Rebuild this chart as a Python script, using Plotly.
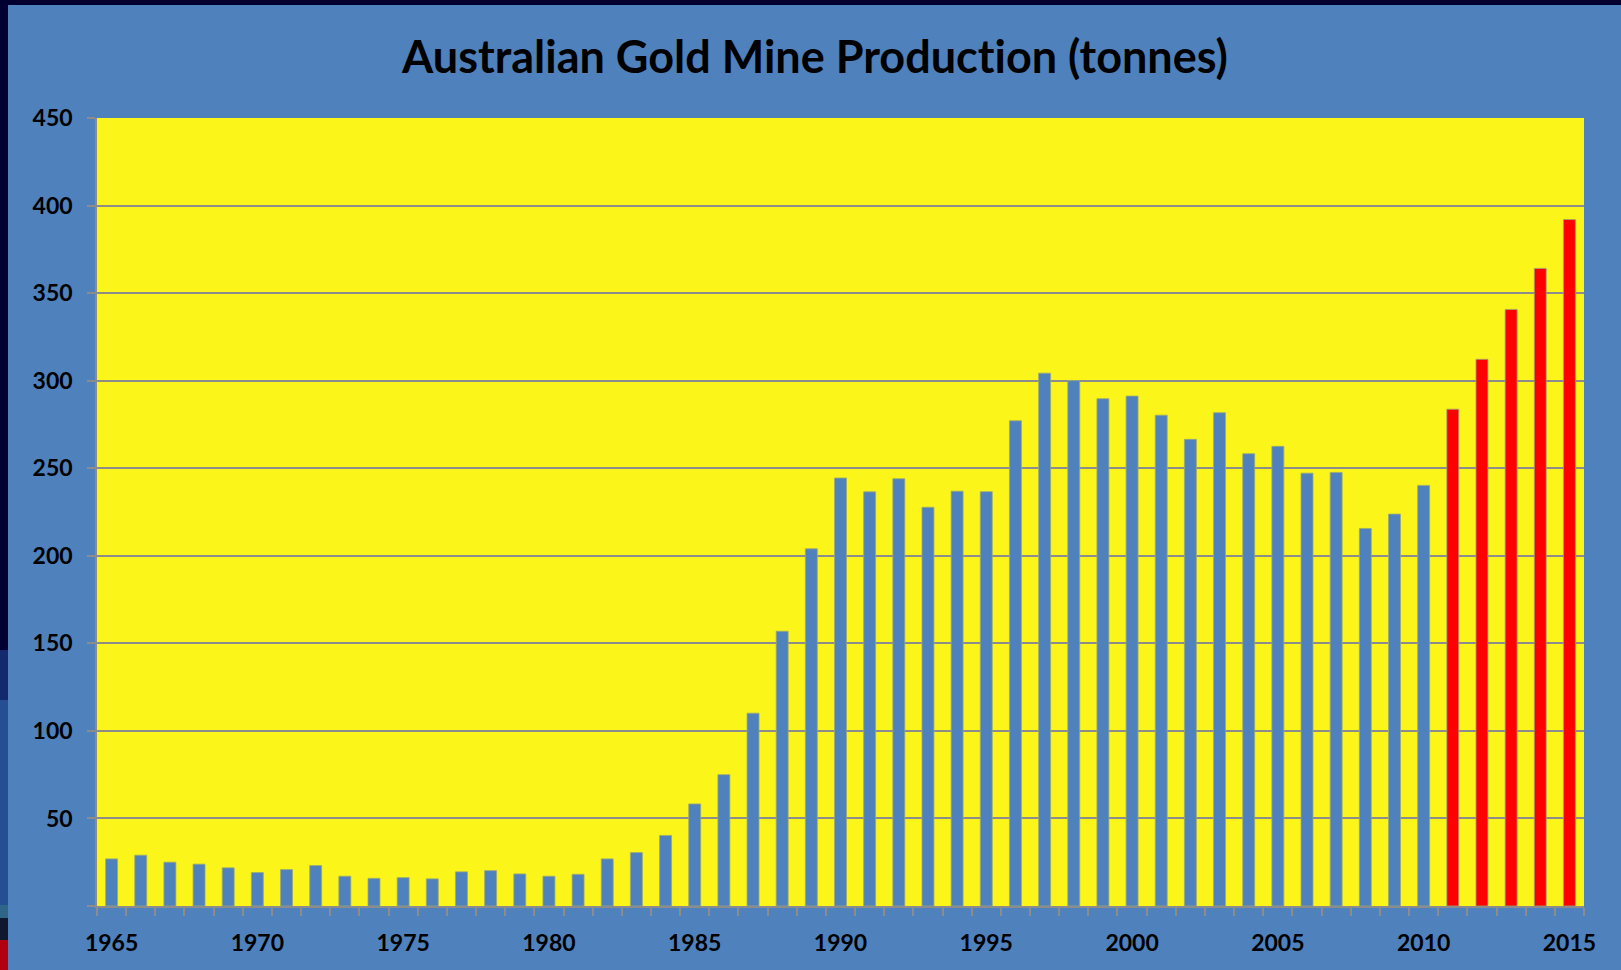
import plotly.graph_objects as go

# ---- data ----
years = list(range(1965, 2016))
production = [
    26.9, 29.0, 25.0, 23.9, 21.8, 19.1, 20.8, 23.1, 17.0, 15.8,   # 1965-1974
    16.2, 15.5, 19.5, 20.2, 18.3, 17.0, 18.1, 26.9, 30.5, 40.3,   # 1975-1984
    58.3, 75.0, 110.1, 156.9, 204.0, 244.4, 236.5, 244.0, 227.7, 236.9,  # 1985-1994
    236.6, 277.1, 304.3, 300.0, 289.7, 291.2, 280.3, 266.5, 281.7, 258.3,  # 1995-2004
    262.5, 247.2, 247.6, 215.6, 223.8, 240.2, 283.7, 312.2, 340.7, 364.1,  # 2005-2014
    392.0,                                                         # 2015
]
highlight_from = 2011
x_tick_years = list(range(1965, 2016, 5))
y_tick_vals = list(range(0, 451, 50))
y_tick_text = ["" if v == 0 else str(v) for v in y_tick_vals]

title_text = "Australian Gold Mine Production (tonnes)"

# ---- styling ----
BG = "#4F81BD"
PLOT_BG = "#FBF519"
BAR_BLUE = "#4F81BD"
BAR_RED = "#FF0000"
GRID = "#8C8C8C"
DARK = "#000030"
FONT = "Lato"

W, H = 1621, 970
ML, MR, MT, MB = 97, 37, 118, 64
pw = W - ML - MR
ph = H - MT - MB


def px_x(p):
    return (p - ML) / pw


def px_y(p):  # p measured from top of figure
    return (H - MB - p) / ph


colors = [BAR_RED if y >= highlight_from else BAR_BLUE for y in years]

fig = go.Figure()
fig.add_trace(go.Bar(
    x=years,
    y=production,
    marker=dict(color=colors, line=dict(color="#9AA878", width=0.8)),
    hoverinfo="x+y",
))

# edges of the original slide background (top and left strips)
strip = [(0, 650, DARK), (650, 700, "#14286E"), (700, 905, "#264E92"),
         (905, 918, "#2F6688"), (918, 940, "#101830"), (940, 970, "#B00010")]
shapes = []
for t, b, c in strip:
    shapes.append(dict(type="rect", xref="paper", yref="paper",
                       x0=px_x(0), x1=px_x(8), y0=px_y(b), y1=px_y(t),
                       fillcolor=c, line=dict(width=0), layer="above"))
shapes.append(dict(type="rect", xref="paper", yref="paper",
                   x0=px_x(0), x1=px_x(W), y0=px_y(5), y1=px_y(0),
                   fillcolor=DARK, line=dict(width=0), layer="above"))

fig.update_layout(
    width=W, height=H,
    autosize=False,
    margin=dict(l=ML, r=MR, t=MT, b=MB, pad=0, autoexpand=False),
    paper_bgcolor=BG,
    plot_bgcolor=PLOT_BG,
    bargap=0.59,
    showlegend=False,
    shapes=shapes,
    title=dict(
        text=f"<b>{title_text}</b>",
        x=815 / W, xanchor="center",
        y=1 - 57 / H, yanchor="middle",
        font=dict(family=FONT, size=45, color="black"),
        automargin=False,
    ),
    font=dict(family=FONT, color="black"),
)

fig.update_xaxes(
    automargin=False,
    range=[years[0] - 0.5, years[-1] + 0.5],
    tickmode="array",
    tickvals=x_tick_years,
    ticktext=[f"<b>{y}</b>" for y in x_tick_years],
    ticks="",
    ticklabelstandoff=16,
    tickfont=dict(family=FONT, size=23, color="black"),
    showgrid=False,
    showline=True, linecolor=GRID, linewidth=1.5,
    minor=dict(tick0=years[0] - 0.5, dtick=1, ticks="outside",
               ticklen=8, tickcolor=GRID, tickwidth=1.5, showgrid=False),
    zeroline=False,
    fixedrange=True,
)

fig.update_yaxes(
    automargin=False,
    range=[0, 450],
    tickmode="array",
    tickvals=y_tick_vals,
    ticktext=[f"<b>{t}</b>" for t in y_tick_text],
    ticks="outside", ticklen=8, tickcolor=GRID, tickwidth=1.5,
    ticklabelstandoff=10,
    tickfont=dict(family=FONT, size=23, color="black"),
    showgrid=True, gridcolor=GRID, gridwidth=1.5,
    showline=True, linecolor=GRID, linewidth=1.5,
    zeroline=False,
    fixedrange=True,
)

post = (
    "document.body.style.margin='0';"
    "document.body.style.background='#4F81BD';"
    "var s=document.createElement('style');"
    "s.textContent='text{font-variant-ligatures:none !important;font-feature-settings:\"liga\" 0,\"clig\" 0 !important;}';"
    "document.head.appendChild(s);"
)

fig.write_html(
    "out.html",
    config={"displayModeBar": False},
    post_script=post,
)
